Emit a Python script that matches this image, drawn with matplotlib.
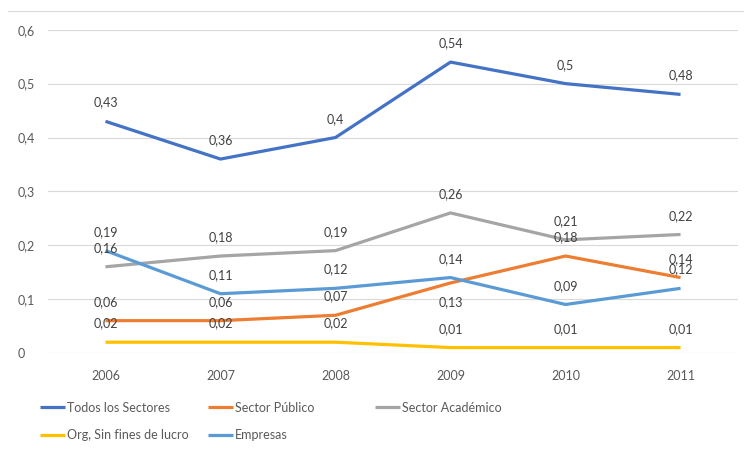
import matplotlib.pyplot as plt
from matplotlib.lines import Line2D

plt.rcParams['font.family'] = ['Lato', 'DejaVu Sans']
plt.rcParams['font.size'] = 9

years = ['2006', '2007', '2008', '2009', '2010', '2011']
todos = [0.43, 0.36, 0.4, 0.54, 0.5, 0.48]
publico = [0.06, 0.06, 0.07, 0.13, 0.18, 0.14]
academico = [0.16, 0.18, 0.19, 0.26, 0.21, 0.22]
org = [0.02, 0.02, 0.02, 0.01, 0.01, 0.01]
empresas = [0.19, 0.11, 0.12, 0.14, 0.09, 0.12]

series = [
    ('Todos los Sectores', todos, '#4472C4'),
    ('Sector Público', publico, '#ED7D31'),
    ('Sector Académico', academico, '#A5A5A5'),
    ('Org, Sin fines de lucro', org, '#FFC000'),
    ('Empresas', empresas, '#5B9BD5'),
]

# labels that sit under the point instead of above it
below = {('Sector Público', 3)}

fig = plt.figure(figsize=(7.44, 4.53), dpi=100)
ax = fig.add_axes([0.0645, 0.2208, 0.9275, 0.7135])

x = list(range(len(years)))
handles = {}
for name, vals, color in series:
    ln, = ax.plot(x, vals, color=color, linewidth=2.3, label=name,
                  solid_joinstyle='round', solid_capstyle='butt')
    handles[name] = ln
    for i, v in enumerate(vals):
        dy = -14 if (name, i) in below else 13.5
        ax.annotate('{:g}'.format(v).replace('.', ','), (i, v),
                    xytext=(0, dy), textcoords='offset points',
                    ha='center', va='center', color='#404040', fontsize=9)

ax.set_xlim(-0.5, 5.5)
ax.set_ylim(0, 0.6)
ax.set_xticks(x)
ax.set_xticklabels(years)
yt = [0, 0.1, 0.2, 0.3, 0.4, 0.5, 0.6]
ax.set_yticks(yt)
ax.set_yticklabels(['{:g}'.format(t).replace('.', ',') for t in yt])
ax.tick_params(length=0, colors='#595959', labelsize=9)
ax.tick_params(axis='x', pad=12)
ax.tick_params(axis='y', pad=22)
for lbl in ax.get_yticklabels():
    lbl.set_horizontalalignment('left')
ax.grid(axis='y', color='#D9D9D9', linewidth=0.8)
ax.set_axisbelow(True)
for s in ax.spines.values():
    s.set_visible(False)

# legend laid out in three columns like the Excel original
columns = [
    (['Todos los Sectores', 'Org, Sin fines de lucro'], 40),
    (['Sector Público', 'Empresas'], 208),
    (['Sector Académico'], 375),
]
for names, px in columns:
    fig.legend([handles[k] for k in names], names, loc='upper left',
               bbox_to_anchor=(px / 744, 0.113), frameon=False,
               borderpad=0, borderaxespad=0, handlelength=2.0,
               handletextpad=0.15, labelspacing=1.25,
               fontsize=9, labelcolor='#595959')

fig.add_artist(Line2D([0.011, 1.0], [0.975, 0.975], color='#D9D9D9',
                      linewidth=0.8, transform=fig.transFigure))

fig.savefig('out.png', dpi=100)
